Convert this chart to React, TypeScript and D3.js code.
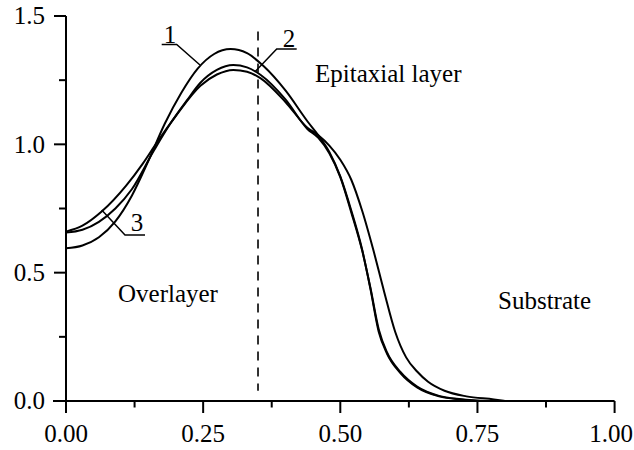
import React from "react";
import * as d3 from "d3";

const W = 634;
const H = 450;

const xTickValues = [0, 0.25, 0.5, 0.75, 1.0];
const xTickLabels = ["0.00", "0.25", "0.50", "0.75", "1.00"];
const xMinorTicks = [0.125, 0.375, 0.625, 0.875];
const yTickValues = [0, 0.5, 1.0, 1.5];
const yTickLabels = ["0.0", "0.5", "1.0", "1.5"];
const yMinorTicks = [0.25, 0.75, 1.25];

// Curve 1: lowest start, highest peak
const curve1X = [0, 0.03, 0.06, 0.09, 0.12, 0.15, 0.18, 0.21, 0.24, 0.27, 0.3, 0.33, 0.36, 0.4, 0.44, 0.46, 0.48, 0.5, 0.52, 0.54, 0.555, 0.57, 0.585, 0.61, 0.64, 0.68, 0.72, 0.76];
const curve1Y = [0.595, 0.606, 0.638, 0.7, 0.8, 0.935, 1.08, 1.2, 1.295, 1.352, 1.371, 1.355, 1.305, 1.21, 1.09, 1.035, 0.97, 0.875, 0.742, 0.588, 0.436, 0.27, 0.185, 0.108, 0.053, 0.018, 0.006, 0.0];

// Curve 2: middle
const curve2X = [0, 0.03, 0.06, 0.09, 0.12, 0.16, 0.19, 0.22, 0.245, 0.275, 0.305, 0.33, 0.355, 0.4, 0.44, 0.46, 0.48, 0.5, 0.52, 0.54, 0.555, 0.57, 0.585, 0.61, 0.64, 0.68, 0.72, 0.77];
const curve2Y = [0.656, 0.667, 0.698, 0.75, 0.825, 0.975, 1.08, 1.17, 1.24, 1.29, 1.309, 1.3, 1.27, 1.175, 1.06, 1.025, 0.965, 0.872, 0.735, 0.585, 0.44, 0.28, 0.19, 0.112, 0.056, 0.02, 0.007, 0.0];

// Curve 3: highest start, lowest peak, widest tail
const curve3X = [0, 0.03, 0.065, 0.11, 0.14, 0.165, 0.2, 0.245, 0.275, 0.305, 0.33, 0.355, 0.4, 0.44, 0.46, 0.48, 0.5, 0.52, 0.54, 0.56, 0.58, 0.6, 0.62, 0.64, 0.66, 0.69, 0.73, 0.78, 0.8];
const curve3Y = [0.66, 0.683, 0.738, 0.84, 0.925, 1.005, 1.11, 1.228, 1.272, 1.29, 1.283, 1.257, 1.165, 1.065, 1.035, 0.995, 0.94, 0.862, 0.74, 0.59, 0.425, 0.27, 0.17, 0.115, 0.075, 0.04, 0.018, 0.006, 0.0];

const dashX = 0.35;
const dashYRange = [0.04, 1.44];

const FONT = '"Liberation Serif", "Times New Roman", serif';

export default function App() {
  const x = d3.scaleLinear().domain([0, 1]).range([66, 614.6]);
  const y = d3.scaleLinear().domain([0, 1.5]).range([401, 16]);

  const line = d3
    .line<[number, number]>()
    .x((d) => x(d[0]))
    .y((d) => y(d[1]))
    .curve(d3.curveMonotoneX);

  const series = [
    curve1X.map((v, i) => [v, curve1Y[i]] as [number, number]),
    curve2X.map((v, i) => [v, curve2Y[i]] as [number, number]),
    curve3X.map((v, i) => [v, curve3Y[i]] as [number, number]),
  ];

  const fs = 25;
  const ts: React.CSSProperties = { fontFamily: FONT, fontSize: fs };

  return (
    <svg
      width={W}
      height={H}
      style={{ position: "absolute", left: 0, top: 0, background: "#fff" }}
    >
      <rect x={0} y={0} width={W} height={H} fill="#fff" />
      {series.map((s, i) => (
        <path key={i} d={line(s) || ""} fill="none" stroke="#000" strokeWidth={2} />
      ))}
      <line
        x1={x(dashX)}
        x2={x(dashX)}
        y1={y(dashYRange[1])}
        y2={y(dashYRange[0])}
        stroke="#000"
        strokeWidth={1.6}
        strokeDasharray="9,7"
      />
      <line x1={x(0) - 13} x2={x(1)} y1={y(0)} y2={y(0)} stroke="#000" strokeWidth={2} />
      <line x1={x(0)} x2={x(0)} y1={y(1.5)} y2={y(0) + 12} stroke="#000" strokeWidth={2} />
      {xTickValues.map((v, i) => {
        const last = i === xTickValues.length - 1;
        return (
          <g key={"xt" + i}>
            <line x1={x(v)} x2={x(v)} y1={y(0)} y2={y(0) + 12} stroke="#000" strokeWidth={2} />
            <text
              x={last ? W - 1 : x(v)}
              y={442}
              textAnchor={last ? "end" : "middle"}
              style={ts}
            >
              {xTickLabels[i]}
            </text>
          </g>
        );
      })}
      {xMinorTicks.map((v, i) => (
        <line key={"xm" + i} x1={x(v)} x2={x(v)} y1={y(0)} y2={y(0) + 6.5} stroke="#000" strokeWidth={2} />
      ))}
      {yTickValues.map((v, i) => (
        <g key={"yt" + i}>
          <line x1={x(0) - 12} x2={x(0)} y1={y(v)} y2={y(v)} stroke="#000" strokeWidth={2} />
          <text x={45} y={y(v) + 8.3} textAnchor="end" style={ts}>
            {yTickLabels[i]}
          </text>
        </g>
      ))}
      {yMinorTicks.map((v, i) => (
        <line key={"ym" + i} x1={x(0) - 7} x2={x(0)} y1={y(v)} y2={y(v)} stroke="#000" strokeWidth={2} />
      ))}
      <text x={315} y={82} style={ts}>Epitaxial layer</text>
      <text x={118} y={302} style={ts}>Overlayer</text>
      <text x={498} y={309} style={ts}>Substrate</text>
      <text x={170} y={43} textAnchor="middle" style={ts}>1</text>
      <polyline points="161.7,44.5 176.7,44.5 200,65" fill="none" stroke="#000" strokeWidth={1.5} />
      <text x={289} y={47} textAnchor="middle" style={ts}>2</text>
      <polyline points="296.7,49 276.7,49 255,71.7" fill="none" stroke="#000" strokeWidth={1.5} />
      <text x={137} y={231} textAnchor="middle" style={ts}>3</text>
      <polyline points="145,235 125,235 101.7,210" fill="none" stroke="#000" strokeWidth={1.5} />
    </svg>
  );
}
